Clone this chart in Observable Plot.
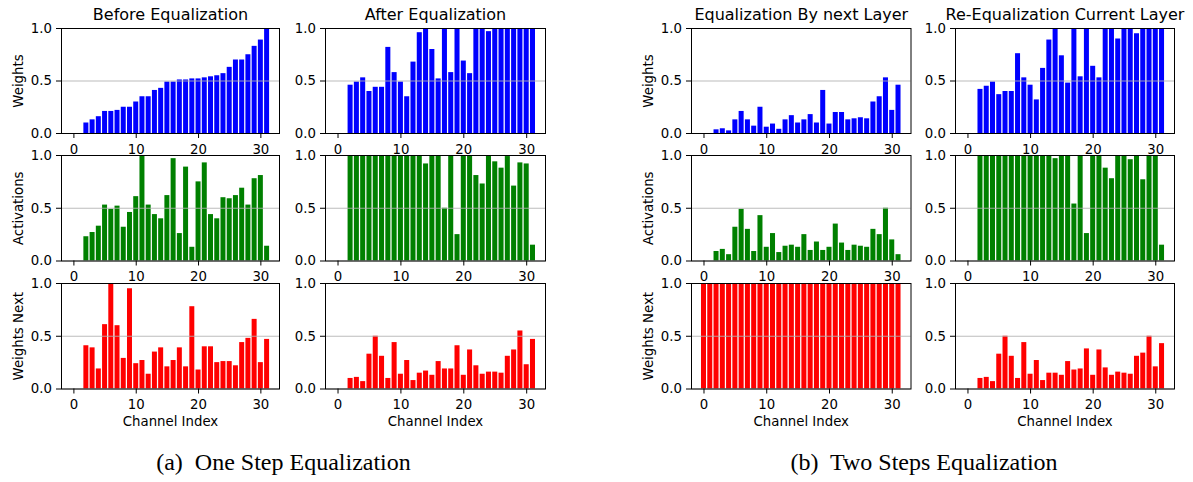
<!DOCTYPE html>
<html><head><meta charset="utf-8">
<script src="https://cdn.jsdelivr.net/npm/d3@7"></script>
<script src="https://cdn.jsdelivr.net/npm/@observablehq/plot@0.6"></script>
<style>
html,body{margin:0;padding:0;background:#fff;}
#fig{position:relative;width:1193px;height:482px;overflow:hidden;background:#fff;}
.panel{position:absolute;}
.cap{position:absolute;font-family:"Liberation Serif","DejaVu Serif",serif;font-size:24px;line-height:1;color:#000;white-space:pre;transform:translateX(-50%);}
</style></head><body><div id="fig"></div>
<script>
const channels = [0,1,2,3,4,5,6,7,8,9,10,11,12,13,14,15,16,17,18,19,20,21,22,23,24,25,26,27,28,29,30,31];
const yTicks = [0, 0.5, 1];
const xTicks = [0, 10, 20, 30];
const rowLabels = ["Weights", "Activations", "Weights Next"];
const columnTitles = ["Before Equalization", "After Equalization", "Equalization By next Layer", "Re-Equalization Current Layer"];
const captions = ["(a)  One Step Equalization", "(b)  Two Steps Equalization"];
const xLabel = "Channel Index";
const barColors = ["#0000ff", "#008000", "#ff0000"];

// (a) One step: before equalization
const beforeWeights = [0,0,0.10,0.13,0.16,0.21,0.21,0.22,0.25,0.25,0.30,0.35,0.35,0.41,0.43,0.49,0.49,0.51,0.51,0.52,0.52,0.53,0.54,0.55,0.57,0.63,0.70,0.70,0.75,0.83,0.89,1.0];
const beforeActivations = [0,0,0.23,0.27,0.33,0.53,0.49,0.52,0.32,0.46,0.61,1.0,0.53,0.44,0.40,0.62,0.97,0.26,0.89,0.13,0.75,0.93,0.44,0.40,0.60,0.59,0.62,0.69,0.53,0.78,0.81,0.14];
const beforeWeightsNext = [0,0,0.41,0.39,0.19,0.61,1.0,0.60,0.29,0.95,0.24,0.27,0.14,0.35,0.39,0.21,0.27,0.39,0.21,0.78,0.18,0.40,0.40,0.25,0.26,0.26,0.22,0.44,0.48,0.66,0.25,0.47];
// (a) One step: after equalization
const afterWeights = [0,0,0.46,0.49,0.53,0.40,0.44,0.44,0.82,0.58,0.49,0.35,0.68,0.96,1.0,0.80,0.52,1.0,0.58,1.0,0.69,0.57,1.0,1.0,0.97,1.0,1.0,1.0,1.0,1.0,1.0,1.0];
const afterActivations = [0,0,1,1,1,1,1,1,1,1,1,1,1,1,0.92,1,1,0.50,1,0.25,1,1,0.81,0.73,1,0.94,0.88,0.99,0.71,0.93,0.92,0.15];
const afterWeightsNext = [0,0,0.10,0.11,0.07,0.33,0.50,0.31,0.10,0.44,0.14,0.27,0.08,0.15,0.17,0.13,0.26,0.19,0.19,0.41,0.13,0.37,0.22,0.14,0.16,0.16,0.15,0.31,0.37,0.55,0.23,0.47];
// (b) Two steps: equalization by next layer
const byNextWeights = [0,0,0.035,0.045,0.025,0.13,0.21,0.13,0.07,0.25,0.06,0.09,0.04,0.13,0.17,0.10,0.13,0.18,0.10,0.41,0.09,0.20,0.20,0.13,0.14,0.15,0.14,0.30,0.35,0.53,0.22,0.46];
const byNextActivations = [0,0,0.09,0.11,0.06,0.32,0.49,0.30,0.09,0.43,0.13,0.26,0.08,0.14,0.15,0.13,0.25,0.10,0.18,0.10,0.13,0.35,0.17,0.10,0.15,0.14,0.13,0.30,0.25,0.50,0.20,0.06];
const byNextWeightsNext = [1,1,1,1,1,1,1,1,1,1,1,1,1,1,1,1,1,1,1,1,1,1,1,1,1,1,1,1,1,1,1,1];
// (b) Two steps: re-equalization current layer
const reEqWeights = [0,0,0.42,0.45,0.49,0.37,0.40,0.40,0.76,0.53,0.46,0.32,0.62,0.89,1.0,0.74,0.48,1.0,0.54,1.0,0.64,0.53,1.0,1.0,0.90,1.0,1.0,0.95,1.0,1.0,1.0,1.0];
const reEqActivations = [0,0,1,1,1,1,1,1,1,1,1,1,1,1,0.97,1,1,0.54,1,0.26,1,1,0.88,0.78,1,1,0.96,1,0.77,1,1,0.15];
const reEqWeightsNext = [0,0,0.10,0.11,0.07,0.33,0.50,0.31,0.10,0.44,0.14,0.27,0.08,0.15,0.15,0.13,0.26,0.18,0.19,0.38,0.13,0.37,0.20,0.13,0.16,0.15,0.14,0.31,0.34,0.50,0.21,0.43];

const series = [
  [beforeWeights, beforeActivations, beforeWeightsNext],
  [afterWeights, afterActivations, afterWeightsNext],
  [byNextWeights, byNextActivations, byNextWeightsNext],
  [reEqWeights, reEqActivations, reEqWeightsNext]
];

// layout (pixel frame edges)
const colFrames = [[61, 279], [325, 545], [690.5, 910], [955, 1174]];
const rowFrames = [[27.5, 132.5], [155, 260.5], [282.5, 388]];
const captionX = [283.5, 924];
const ML = 60, MR = 12, MT = 30, MB = 46;

const fig = document.getElementById("fig");

for (let r = 0; r < 3; r++) {
  for (let c = 0; c < 4; c++) {
    const [x0, x1] = colFrames[c];
    const [y0, y1] = rowFrames[r];
    const W = x1 - x0 + ML + MR;
    const H = y1 - y0 + MT + MB;
    const vals = series[c][r];
    const data = channels.map((ch, i) => ({ch, v: vals[i]}));
    const marks = [
      Plot.frame({fill: "white", stroke: "none"}),
      Plot.rect(data, {x1: d => d.ch - 0.4, x2: d => d.ch + 0.4, y1: d => 0, y2: d => d.v, fill: barColors[r]}),
      Plot.gridY(yTicks, {stroke: "#b0b0b0", strokeOpacity: 0.85, strokeWidth: 1.2}),
      Plot.frame({stroke: "black", strokeWidth: 1}),
      Plot.axisX(xTicks, {tickSize: 5, tickPadding: 6, label: null}),
      Plot.axisY(yTicks, {tickFormat: d3.format(".1f"), tickSize: 5, tickPadding: 4.5, label: null})
    ];
    if (r === 0) marks.push(Plot.text([columnTitles[c]], {frameAnchor: "top", textAnchor: "middle", lineAnchor: "bottom", dy: -8.5, fontSize: 16}));
    if (c === 0 || c === 2) marks.push(Plot.text([rowLabels[r]], {frameAnchor: "left", textAnchor: "middle", lineAnchor: "bottom", rotate: -90, dx: -38.8}));
    if (r === 2) marks.push(Plot.text([xLabel], {frameAnchor: "bottom", textAnchor: "middle", lineAnchor: "bottom", dy: 37}));
    const svg = Plot.plot({
      width: W, height: H,
      marginLeft: ML, marginRight: MR, marginTop: MT, marginBottom: MB,
      x: {type: "linear", domain: [-1.99, 32.99]},
      y: {type: "linear", domain: [0, 1]},
      style: {background: "transparent", fontFamily: "'DejaVu Sans', sans-serif", fontSize: "13.3px", color: "black", overflow: "visible"},
      marks
    });
    const holder = document.createElement("div");
    holder.className = "panel";
    holder.style.left = (x0 - ML) + "px";
    holder.style.top = (y0 - MT) + "px";
    holder.appendChild(svg);
    fig.appendChild(holder);
  }
}
captions.forEach((t, i) => {
  const d = document.createElement("div");
  d.className = "cap";
  d.textContent = t;
  d.style.left = captionX[i] + "px";
  d.style.top = "450px";
  fig.appendChild(d);
});
</script></body></html>
